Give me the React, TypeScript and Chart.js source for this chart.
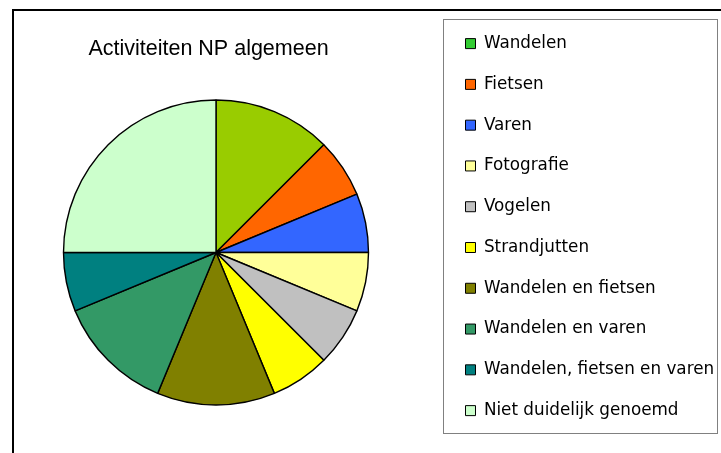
import React, { useEffect, useRef } from "react";
import { Chart, registerables } from "chart.js";

Chart.register(...registerables);

const chartTitle = "Activiteiten NP algemeen";
const categories = [
  "Wandelen",
  "Fietsen",
  "Varen",
  "Fotografie",
  "Vogelen",
  "Strandjutten",
  "Wandelen en fietsen",
  "Wandelen en varen",
  "Wandelen, fietsen en varen",
  "Niet duidelijk genoemd",
];
const counts = [2, 1, 1, 1, 1, 1, 2, 2, 1, 4];
const sliceColors = [
  "#99CC00",
  "#FF6600",
  "#3366FF",
  "#FFFF99",
  "#C0C0C0",
  "#FFFF00",
  "#808000",
  "#339966",
  "#008080",
  "#CCFFCC",
];
const legendColors = [
  "#33CC33",
  "#FF6600",
  "#3366FF",
  "#FFFF99",
  "#C0C0C0",
  "#FFFF00",
  "#808000",
  "#339966",
  "#008080",
  "#CCFFCC",
];

const W = 721;
const H = 453;
const PIE_CX = 216;
const PIE_CY = 252.5;
const PIE_R = 152.5;
const LEGEND_FONT = 16.8;
const LEGEND_PAD = 40.78 - 16.8;

const framePlugin = {
  id: "frame",
  afterLayout(chart: any) {
    const ca = chart.chartArea;
    ca.left = PIE_CX - PIE_R - 4;
    ca.right = PIE_CX + PIE_R + 4;
    ca.top = PIE_CY - PIE_R - 4;
    ca.bottom = PIE_CY + PIE_R + 4;
    ca.width = ca.right - ca.left;
    ca.height = ca.bottom - ca.top;

    const lg = chart.legend;
    if (lg) {
      lg.left = 465.5 - LEGEND_PAD;
      lg.right = W;
      lg.top = 43.6 - LEGEND_FONT / 2 - LEGEND_PAD;
      lg.bottom = H;
      lg.width = lg.right - lg.left;
      lg.height = lg.bottom - lg.top;
    }
    const tb = chart.titleBlock;
    if (tb) {
      tb.left = 0;
      tb.right = 417;
      tb.top = 36.3;
      tb.bottom = 62;
      tb.width = tb.right - tb.left;
      tb.height = tb.bottom - tb.top;
    }
  },
  beforeDraw(chart: any) {
    const ctx = chart.ctx;
    ctx.save();
    ctx.fillStyle = "#ffffff";
    ctx.fillRect(0, 0, W, H);
    ctx.strokeStyle = "#000000";
    ctx.lineWidth = 2;
    ctx.beginPath();
    ctx.moveTo(13, H + 4);
    ctx.lineTo(13, 10);
    ctx.lineTo(W + 4, 10);
    ctx.stroke();
    ctx.lineWidth = 1;
    ctx.strokeStyle = "#808080";
    ctx.fillStyle = "#ffffff";
    ctx.fillRect(443.5, 19.5, 274, 414);
    ctx.strokeRect(443.5, 19.5, 274, 414);
    ctx.restore();
  },
};

export default function App() {
  const canvasRef = useRef<HTMLCanvasElement | null>(null);

  useEffect(() => {
    document.body.style.margin = "0";
    const canvas = canvasRef.current;
    if (!canvas) return;
    const chart = new Chart(canvas, {
      type: "pie",
      data: {
        labels: categories,
        datasets: [
          {
            data: counts,
            backgroundColor: sliceColors,
            borderColor: "#000000",
            borderWidth: 1.4,
          },
        ],
      },
      options: {
        responsive: false,
        animation: false,
        devicePixelRatio: 1,
        events: [],
        radius: PIE_R,
        plugins: {
          tooltip: { enabled: false },
          title: {
            display: true,
            text: chartTitle,
            color: "#000000",
            padding: 0,
            font: {
              family: '"Liberation Sans", Arial, sans-serif',
              size: 21.5,
              weight: "normal",
            },
          },
          legend: {
            display: true,
            position: "right",
            align: "start",
            labels: {
              color: "#000000",
              boxWidth: 10,
              boxHeight: 10,
              padding: LEGEND_PAD,
              font: {
                family: '"DejaVu Sans", sans-serif',
                size: LEGEND_FONT,
              },
              generateLabels: () =>
                categories.map((t, i) => ({
                  text: t,
                  fillStyle: legendColors[i],
                  strokeStyle: "#000000",
                  lineWidth: 1,
                  hidden: false,
                  index: i,
                })),
            },
          },
        },
      } as any,
      plugins: [framePlugin],
    });
    return () => chart.destroy();
  }, []);

  return (
    <div style={{ position: "absolute", left: 0, top: 0, width: W, height: H }}>
      <canvas ref={canvasRef} width={W} height={H} style={{ display: "block" }} />
    </div>
  );
}
